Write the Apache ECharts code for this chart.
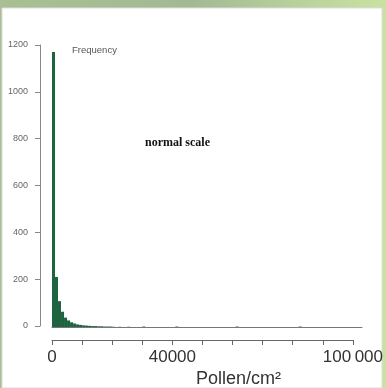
<!DOCTYPE html>
<html>
<head>
<meta charset="utf-8">
<script src="https://cdn.jsdelivr.net/npm/echarts@6/dist/echarts.min.js"></script>
<style>
  html, body { margin: 0; padding: 0; }
  #chart { width: 386px; height: 388px; }
</style>
</head>
<body>
<div id="chart"></div>
<script>
// histogram bins, pollen/cm2 (left edge of each 1000-wide bin) and counts
const binStart = [0, 1000, 2000, 3000, 4000, 5000, 6000, 7000, 8000, 9000,
  10000, 11000, 12000, 13000, 14000, 15000, 16000, 17000, 18000, 19000,
  20000, 22000, 25000, 30000, 41000, 61000, 82000];
const binCount = [1170, 213, 110, 65, 40, 28, 20, 15, 11, 9,
  7, 6, 5, 4, 4, 3, 3, 2, 2, 2,
  1, 1, 1, 2, 2, 2, 2];
const binSize = 1000;

const yTicks = [0, 200, 400, 600, 800, 1000, 1200];
const xLabels = { 0: '0', 40000: '40000', 100000: '100\u2009000' };

const data = binStart.map((s, i) => [s, s + binSize, binCount[i]]);

const chart = echarts.init(document.getElementById('chart'));

const hidden = { show: false };

chart.setOption({
  animation: false,
  backgroundColor: {
    type: 'linear', x: 0, y: 0, x2: 1, y2: 0,
    colorStops: [
      { offset: 0, color: '#a9bf93' },
      { offset: 0.5, color: '#a3b994' },
      { offset: 0.75, color: '#b7cf9c' },
      { offset: 1, color: '#c9e2a2' },
    ],
  },
  graphic: [
    {
      type: 'rect', z: -10,
      shape: { x: 2, y: 8, width: 380, height: 380 },
      style: { fill: '#ffffff', stroke: '#dddddd', lineWidth: 1 },
    },
    {
      type: 'text', left: 72, top: 45,
      style: { text: 'Frequency', fontSize: 9.5, fill: '#555', fontFamily: 'Liberation Sans' },
    },
    {
      type: 'text', left: 145, top: 137,
      style: { text: 'normal scale', fontSize: 12, fontWeight: 'bold', fill: '#111', fontFamily: 'Liberation Serif' },
    },
    {
      type: 'text', left: 196, top: 370,
      style: { text: 'Pollen/cm²', fontSize: 18, fill: '#333', fontFamily: 'Liberation Sans' },
    },
  ],
  grid: [
    // histogram
    { left: 52, top: 45, width: 310, height: 282 },
    // detached y axis
    { left: 40, top: 45, width: 1, height: 281 },
    // detached x axis
    { left: 52, top: 330, width: 301, height: 10 },
  ],
  xAxis: [
    {
      gridIndex: 0,
      type: 'value',
      min: 0,
      max: 103000,
      axisLine: { show: true, lineStyle: { color: '#777', width: 1 } },
      axisTick: hidden,
      axisLabel: hidden,
      splitLine: hidden,
    },
    { gridIndex: 1, type: 'value', show: false },
    {
      gridIndex: 2,
      type: 'value',
      min: 0,
      max: 100000,
      interval: 10000,
      axisLine: { show: true, lineStyle: { color: '#666', width: 1 } },
      axisTick: { show: true, length: 5, lineStyle: { color: '#666' } },
      axisLabel: {
        fontSize: 17,
        color: '#333',
        fontFamily: 'Liberation Sans',
        margin: 9,
        formatter: (v) => xLabels[v] || '',
      },
      splitLine: hidden,
    },
  ],
  yAxis: [
    {
      gridIndex: 0,
      type: 'value',
      min: 0,
      max: 1200,
      show: false,
    },
    {
      gridIndex: 1,
      type: 'value',
      min: 0,
      max: 1200,
      interval: 200,
      axisLine: { show: true, lineStyle: { color: '#888', width: 1 } },
      axisTick: { show: true, length: 5, lineStyle: { color: '#888' } },
      axisLabel: {
        fontSize: 9,
        color: '#666',
        fontFamily: 'Liberation Sans',
        margin: 12,
        formatter: (v) => (yTicks.includes(v) ? String(v) : ''),
      },
      splitLine: hidden,
    },
    { gridIndex: 2, type: 'value', show: false },
  ],
  series: [
    {
      type: 'custom',
      xAxisIndex: 0,
      yAxisIndex: 0,
      encode: { x: [0, 1], y: 2 },
      data: data,
      renderItem: (params, api) => {
        const p0 = api.coord([api.value(0), api.value(2)]);
        const p1 = api.coord([api.value(1), 0]);
        return {
          type: 'rect',
          shape: { x: p0[0], y: p0[1], width: p1[0] - p0[0], height: p1[1] - p0[1] },
          style: { fill: '#1f6440' },
        };
      },
    },
  ],
});
</script>
</body>
</html>
